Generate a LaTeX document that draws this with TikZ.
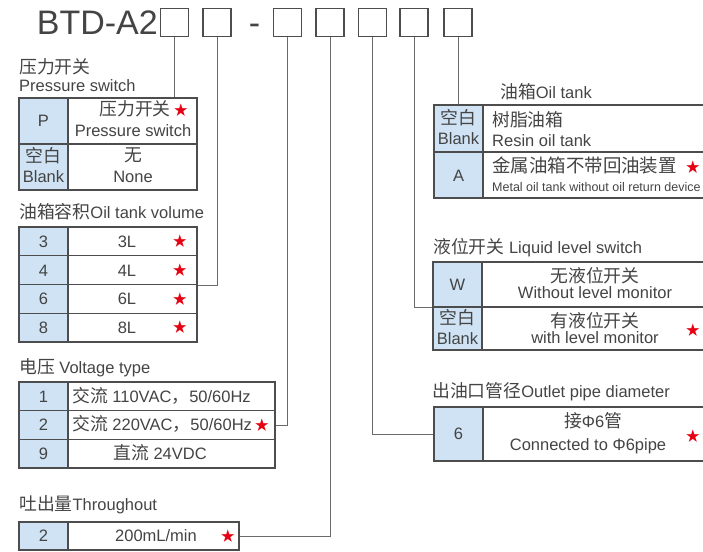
\documentclass[tikz,border=0pt]{standalone}
\usepackage{fontspec}
\setmainfont{Liberation Sans}
\newfontfamily\cjk[Scale=1.08]{Noto Sans CJK SC}
\newcommand\zh[1]{{\cjk #1}}
\newcommand\fsz[2]{\fontsize{#1}{#2}\selectfont}
\definecolor{bc}{HTML}{4D4D4D}
\definecolor{keyb}{HTML}{CFE3F4}
\definecolor{tc}{HTML}{444444}
\definecolor{lc}{HTML}{6A6A6A}
\definecolor{starc}{HTML}{E60012}
\begin{document}
\begin{tikzpicture}[x=1pt,y=-1pt,
  every node/.style={inner sep=0pt, text=tc},
  kc/.style={draw=bc, fill=keyb, line width=1.2pt, minimum width=49pt},
  vc/.style={draw=bc, fill=white, line width=1.2pt},
  dg/.style={draw=bc, line width=1.3pt, minimum width=28pt, minimum height=28pt},
  lk/.style={draw=lc, line width=0.9pt},
  tx/.style={font=\fsz{16.5}{20}, text height=11.8pt, text depth=0pt},
  hd/.style={font=\fsz{16.5}{20}, anchor=west, text height=11.8pt, text depth=0pt},
  sm/.style={font=\fsz{12.5}{15}, text height=9pt, text depth=0pt},
  st/.style={text=starc, font=\cjk\fsz{13}{13}},
]
\useasboundingbox (0,0) rectangle (703,551);
\clip (0,0) rectangle (703,551);

% ---------- title ----------
\node[font=\fsz{34}{34}, anchor=base east] (title) at (158,35) {BTD-A2};
\node[dg] (b1) at (174.5,22.5) {};
\node[dg] (b2) at (217,22.5) {};
\node[font=\fsz{34}{34}, anchor=base] (dash) at (254.5,35) {-};
\node[dg] (b3) at (287.5,22.5) {};
\node[dg] (b4) at (330,22.5) {};
\node[dg] (b5) at (372.5,22.5) {};
\node[dg] (b6) at (414,22.5) {};
\node[dg] (b7) at (458,22.5) {};

% ---------- pressure switch ----------
\node[hd] (h1a) at (19,68) {\zh{压力开关}};
\node[hd] (h1b) at (19,86) {Pressure switch};
\node[kc, minimum height=46pt] (pk1) at (43.5,121) {};
\node[vc, minimum width=129pt, minimum height=46pt] (pv1) at (132.5,121) {};
\node[kc, minimum height=46pt] (pk2) at (43.5,167) {};
\node[vc, minimum width=129pt, minimum height=46pt] (pv2) at (132.5,167) {};
\node[tx] (pa1) at (43.5,121) {P};
\node[tx] (pb1) at (135,110) {\zh{压力开关}};
\node[st] (ps1) at (181,110) {★};
\node[tx] (pc1) at (133,131) {Pressure switch};
\node[tx] (pa2) at (43.5,157) {\zh{空白}};
\node[tx] (pa3) at (43.5,177) {Blank};
\node[tx] (pb2) at (133,156) {\zh{无}};
\node[tx] (pc2) at (133,177) {None};

% ---------- oil tank volume ----------
\node[hd] (h2) at (19,213) {\zh{油箱容积}Oil tank volume};
\foreach \k/\y [count=\i] in {3/241.4,4/270.1,6/298.9,8/327.6}{
  \node[kc, minimum height=28.75pt] (vk\i) at (43.5,\y) {};
  \node[vc, minimum width=129pt, minimum height=28.75pt] (vv\i) at (132.5,\y) {};
  \node[tx] (va\i) at (43.5,\y) {\k};
  \node[tx] (vb\i) at (127,\y) {\k L};
  \node[st] (vs\i) at (180,\y) {★};
}

% ---------- voltage ----------
\node[hd] (h3) at (19,368) {\zh{电压} Voltage type};
\foreach \y [count=\i] in {396.3,425,453.7}{
  \node[kc, minimum height=28.67pt] (tk\i) at (43.5,\y) {};
  \node[vc, minimum width=207pt, minimum height=28.67pt] (tv\i) at (171.5,\y) {};
}
\node[tx] (ta1) at (43.5,396.3) {1};
\node[tx] (ta2) at (43.5,425) {2};
\node[tx] (ta3) at (43.5,453.7) {9};
\node[tx, anchor=west] (tb1) at (72,396.3) {\zh{交流} 110VAC\zh{，}50/60Hz};
\node[tx, anchor=west] (tb2) at (72,425) {\zh{交流} 220VAC\zh{，}50/60Hz};
\node[st] (ts2) at (262,425) {★};
\node[tx] (tb3) at (160,453.7) {\zh{直流} 24VDC};

% ---------- throughput ----------
\node[hd] (h4) at (19,505) {\zh{吐出量}Throughout};
\node[kc, minimum height=28pt] (rk1) at (43.5,536) {};
\node[vc, minimum width=171pt, minimum height=28pt] (rv1) at (153.5,536) {};
\node[tx] (ra1) at (43.5,536) {2};
\node[tx] (rb1) at (156,536) {200mL/min};
\node[st] (rs1) at (228,536) {★};

% ---------- oil tank ----------
\node[hd] (h5) at (500,93) {\zh{油箱}Oil tank};
\node[kc, minimum height=47pt] (ok1) at (458.5,128.5) {};
\node[vc, minimum width=237pt, minimum height=47pt] (ov1) at (601.5,128.5) {};
\node[kc, minimum height=46pt] (ok2) at (458.5,175) {};
\node[vc, minimum width=237pt, minimum height=46pt] (ov2) at (601.5,175) {};
\node[tx] (oa1) at (458.5,119) {\zh{空白}};
\node[tx] (oa2) at (458.5,139) {Blank};
\node[tx, anchor=west] (ob1) at (492,121) {\zh{树脂油箱}};
\node[tx, anchor=west] (oc1) at (492,141) {Resin oil tank};
\node[tx] (oa3) at (458.5,176) {A};
\node[tx, anchor=west, font=\fsz{17.1}{20}] (ob2) at (492,167) {\zh{金属油箱不带回油装置}};
\node[st] (os2) at (693,167) {★};
\node[sm, anchor=west] (oc2) at (492,186.5) {Metal oil tank without oil return device};

% ---------- liquid level switch ----------
\node[hd] (h6) at (433,248) {\zh{液位开关} Liquid level switch};
\node[kc, minimum height=45pt] (qk1) at (457.5,284.5) {};
\node[vc, minimum width=238pt, minimum height=45pt] (qv1) at (601,284.5) {};
\node[kc, minimum height=43pt] (qk2) at (457.5,328.5) {};
\node[vc, minimum width=238pt, minimum height=43pt] (qv2) at (601,328.5) {};
\node[tx] (qa1) at (457.5,284.5) {W};
\node[tx] (qb1) at (595,277) {\zh{无液位开关}};
\node[tx] (qc1) at (595,293) {Without level monitor};
\node[tx] (qa2) at (457.5,319) {\zh{空白}};
\node[tx] (qa3) at (457.5,339) {Blank};
\node[tx] (qb2) at (595,322) {\zh{有液位开关}};
\node[tx] (qc2) at (595,338) {with level monitor};
\node[st] (qs2) at (693,330) {★};

% ---------- outlet pipe ----------
\node[hd] (h7) at (432,392) {\zh{出油口管径}Outlet pipe diameter};
\node[kc, minimum height=54pt] (uk1) at (458.5,434) {};
\node[vc, minimum width=237pt, minimum height=54pt] (uv1) at (601.5,434) {};
\node[tx] (ua1) at (458.5,434) {6};
\node[tx] (ub1) at (593,422) {\zh{接}Φ6\zh{管}};
\node[tx] (uc1) at (588,445) {Connected to Φ6pipe};
\node[st] (us1) at (693,436) {★};

% ---------- connectors ----------
\draw[lk] (b1.south) -- (b1.south |- pv1.north);
\draw[lk] (b2.south) |- (vv2.south east);
\draw[lk] (b3.south) |- (tv2.east);
\draw[lk] (b4.south) |- (rv1.east);
\draw[lk] (b5.south) |- (uk1.west);
\draw[lk] (b6.south) |- (qk1.south west);
\draw[lk] (b7.south) -- (b7.south |- ov1.north);
\end{tikzpicture}
\end{document}
